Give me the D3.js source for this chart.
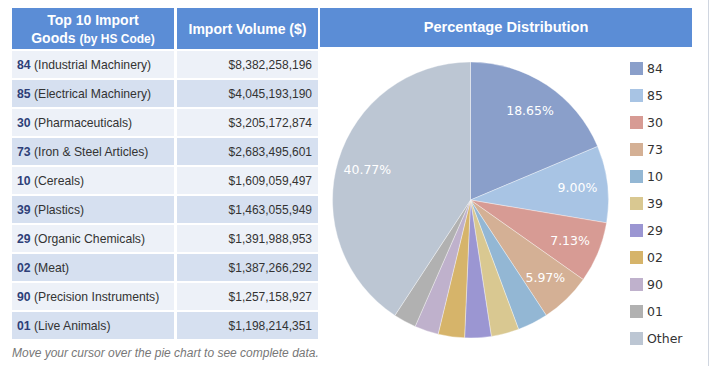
<!DOCTYPE html>
<html><head><meta charset="utf-8">
<script src="https://cdn.jsdelivr.net/npm/d3@7"></script>
<style>
html,body{margin:0;padding:0;background:#fff;}
svg{display:block;}
</style></head>
<body>
<svg id="c" width="710" height="366"></svg>
<script>
const codes = ["84","85","30","73","10","39","29","02","90","01"];
const names = ["Industrial Machinery","Electrical Machinery","Pharmaceuticals","Iron & Steel Articles","Cereals","Plastics","Organic Chemicals","Meat","Precision Instruments","Live Animals"];
const values = [8382258196,4045193190,3205172874,2683495601,1609059497,1463055949,1391988953,1387266292,1257158927,1198214351];
const otherValue = 18322220000;
const pieLabels = codes.concat(["Other"]);
const pieValues = values.concat([otherValue]);
const pieColors = ["#8a9fca","#a8c4e4","#d79b94","#d4b095","#93b7d4","#d9c891","#9b96d2","#d6b46a","#bfb1cc","#b1b1b1","#bcc6d3"];

const svg = d3.select("#c");
const hdr = "#5b8dd6";
const fontT = "'Liberation Sans', Arial, sans-serif";
const fontV = "'DejaVu Sans', Verdana, sans-serif";

// outer border
svg.append("line").attr("x1",708.5).attr("x2",708.5).attr("y1",0).attr("y2",366).attr("stroke","#d0d6e0");

// table header
const c1 = [12,174], c2 = [177,318];
svg.append("rect").attr("x",c1[0]).attr("y",8).attr("width",c1[1]-c1[0]).attr("height",41).attr("fill",hdr);
svg.append("rect").attr("x",c2[0]).attr("y",8).attr("width",c2[1]-c2[0]).attr("height",41).attr("fill",hdr);
const h1 = svg.append("text").attr("text-anchor","middle").attr("fill","#fff").attr("font-family",fontT).attr("font-weight","bold");
h1.append("tspan").attr("x",(c1[0]+c1[1])/2).attr("y",25).attr("font-size",14).text("Top 10 Import");
const t2 = h1.append("tspan").attr("x",(c1[0]+c1[1])/2).attr("y",43);
t2.append("tspan").attr("font-size",14).text("Goods ");
t2.append("tspan").attr("font-size",12).text("(by HS Code)");
svg.append("text").attr("x",(c2[0]+c2[1])/2).attr("y",34).attr("text-anchor","middle").attr("fill","#fff")
  .attr("font-family",fontT).attr("font-weight","bold").attr("font-size",14).text("Import Volume ($)");

// rows
const y = d3.scaleBand().domain(d3.range(codes.length)).range([51,339]).paddingInner(2/29).paddingOuter(0);
const fmt = d3.format(",");
const rows = svg.selectAll("g.row").data(codes).join("g").attr("class","row");
rows.append("rect").attr("x",c1[0]).attr("y",(d,i)=>y(i)).attr("width",c1[1]-c1[0]).attr("height",y.bandwidth())
  .attr("fill",(d,i)=>i%2?"#d6e0f0":"#edf1f8");
rows.append("rect").attr("x",c2[0]).attr("y",(d,i)=>y(i)).attr("width",c2[1]-c2[0]).attr("height",y.bandwidth())
  .attr("fill",(d,i)=>i%2?"#d6e0f0":"#edf1f8");
const lt = rows.append("text").attr("x",c1[0]+5).attr("y",(d,i)=>y(i)+y.bandwidth()/2).attr("dy","0.35em")
  .attr("font-family",fontT).attr("font-size",12.2).attr("fill","#333");
lt.append("tspan").attr("fill","#2e3f78").attr("font-weight","bold").text(d=>d);
lt.append("tspan").text((d,i)=>" ("+names[i]+")");
rows.append("text").attr("x",c2[1]-6).attr("y",(d,i)=>y(i)+y.bandwidth()/2).attr("dy","0.35em").attr("text-anchor","end")
  .attr("font-family",fontT).attr("font-size",12).attr("fill","#333").text((d,i)=>"$"+fmt(values[i]));

svg.append("text").attr("x",12).attr("y",357).attr("font-family",fontT).attr("font-style","italic").attr("font-size",12)
  .attr("fill","#777").text("Move your cursor over the pie chart to see complete data.");

// pie panel header
svg.append("rect").attr("x",320).attr("y",8).attr("width",372).attr("height",39).attr("fill",hdr);
svg.append("text").attr("x",506).attr("y",32).attr("text-anchor","middle").attr("fill","#fff")
  .attr("font-family",fontT).attr("font-weight","bold").attr("font-size",14.6).text("Percentage Distribution");

// pie
const cx = 470.5, cy = 200, R = 138;
const total = d3.sum(pieValues);
const pie = d3.pie().sort(null).value(d=>d)(pieValues);
const arc = d3.arc().innerRadius(0).outerRadius(R);
const labArc = d3.arc().innerRadius(R*0.78).outerRadius(R*0.78);
const color = d3.scaleOrdinal().domain(pieLabels).range(pieColors);
const g = svg.append("g").attr("transform",`translate(${cx},${cy})`);
g.selectAll("path").data(pie).join("path").attr("d",arc).attr("fill",(d,i)=>color(pieLabels[i]))
  .attr("stroke","#fff").attr("stroke-width",0.6).attr("stroke-opacity",0.6);
g.selectAll("text").data(pie.filter(d=>d.value/total>0.05)).join("text")
  .attr("transform",d=>`translate(${labArc.centroid(d)})`).attr("text-anchor","middle").attr("dy","0.35em")
  .attr("font-family",fontV).attr("font-size",12.5).attr("fill","#fff")
  .text(d=>(d.value/total*100).toFixed(2)+"%");

// legend
const ly = d3.scalePoint().domain(pieLabels).range([62,332]);
const leg = svg.selectAll("g.leg").data(pieLabels).join("g").attr("class","leg");
leg.append("rect").attr("x",630).attr("y",d=>ly(d)).attr("width",13).attr("height",13).attr("fill",d=>color(d));
leg.append("text").attr("x",647).attr("y",d=>ly(d)+6.5).attr("dy","0.35em").attr("font-family",fontV)
  .attr("font-size",12.5).attr("fill","#333").text(d=>d);
</script>
</body></html>
